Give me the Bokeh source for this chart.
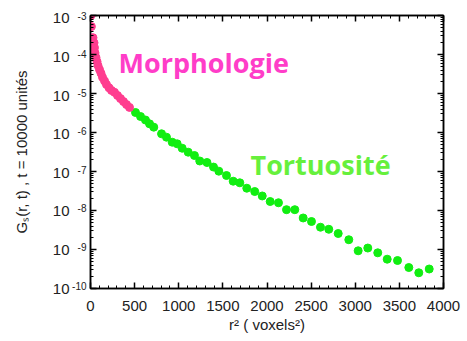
from bokeh.plotting import figure
from bokeh.models import LogAxis, LinearAxis, FixedTicker, Label, Range1d, LogScale
from bokeh.embed import file_html
from bokeh.resources import INLINE

# --- data ---
morph_r2 = [5, 10, 28, 40, 45, 51, 62, 74, 85, 102, 119, 136, 159, 181, 210, 238,
            272, 306, 340, 374, 408, 442]
morph_g = [1.0e-3, 5.2e-4, 2.7e-4, 2.0e-4, 1.5e-4, 1.1e-4, 8.4e-5, 6.6e-5, 5.2e-5,
           4.1e-5, 3.3e-5, 2.6e-5, 2.1e-5, 1.7e-5, 1.4e-5, 1.2e-5, 1.07e-5, 8.9e-6,
           7.4e-6, 6.2e-6, 5.2e-6, 4.4e-6]

tort_r2 = [510, 567, 623, 669, 717, 805, 861, 926, 982, 1039, 1107, 1178, 1238, 1320,
           1394, 1454, 1541, 1617, 1692, 1771, 1861, 1946, 2036, 2130, 2221, 2315,
           2410, 2504, 2606, 2700, 2807, 2927, 3033, 3142, 3255, 3362, 3479, 3607,
           3720, 3838]
tort_g = [3.26e-6, 2.57e-6, 2.09e-6, 1.67e-6, 1.37e-6, 9.27e-7, 7.57e-7, 5.64e-7,
          5.13e-7, 3.95e-7, 3.13e-7, 2.57e-7, 1.86e-7, 1.70e-7, 1.30e-7, 1.02e-7,
          7.89e-8, 5.64e-8, 5.13e-8, 3.73e-8, 3.07e-8, 2.36e-8, 1.70e-8, 1.58e-8,
          1.05e-8, 1.05e-8, 6.43e-9, 5.22e-9, 3.73e-9, 3.30e-9, 2.57e-9, 1.78e-9,
          9.27e-10, 1.09e-9, 8.22e-10, 5.64e-10, 5.22e-10, 3.45e-10, 2.53e-10, 3.16e-10]

x_ticks = [0, 500, 1000, 1500, 2000, 2500, 3000, 3500, 4000]
y_exponents = [-10, -9, -8, -7, -6, -5, -4, -3]
y_tick_base = "10"
y_tick_exps = [str(e) for e in y_exponents]

PINK = "#ff3d8f"
PINK_TXT = "#ff3dc8"
GREEN = "#11ee11"
GREEN_TXT = "#66f03c"
FONT = "Liberation Sans"
TXT = "#222222"

Y0, Y1 = 1e-10, 1e-3
p = figure(width=467, height=341, output_backend="svg", toolbar_location=None,
           x_range=(0, 4000), y_range=(Y0, Y1), y_axis_type="log",
           min_border_left=90, min_border_right=24, min_border_top=15,
           min_border_bottom=53)
p.background_fill_color = "white"
p.border_fill_color = "white"
p.grid.visible = False
p.outline_line_color = "black"
p.outline_line_width = 1.5

y_major = [10.0 ** e for e in y_exponents]
y_minor = [k * 10.0 ** e for e in y_exponents[:-1] for k in range(2, 10)]
x_minor = list(range(0, 4001, 100))

yt = FixedTicker(ticks=y_major, minor_ticks=y_minor)
xt = FixedTicker(ticks=x_ticks, minor_ticks=x_minor)


def style(ax, labels=True):
    ax.axis_line_color = "black"
    ax.axis_line_width = 1.5
    ax.major_tick_in = 6
    ax.major_tick_out = 0
    ax.minor_tick_in = 3
    ax.minor_tick_out = 0
    ax.major_tick_line_color = "black"
    ax.major_tick_line_width = 1.5
    ax.minor_tick_line_color = "black"
    ax.minor_tick_line_width = 1
    ax.major_label_text_font = FONT
    ax.major_label_text_font_size = "15px"
    ax.major_label_text_color = TXT
    ax.axis_label_text_font = FONT
    ax.axis_label_text_font_size = "15px"
    ax.axis_label_text_font_style = "normal"
    ax.axis_label_text_color = TXT
    if not labels:
        ax.major_label_text_font_size = "0px"
        ax.major_label_text_alpha = 0
        ax.major_label_standoff = 0


def label_only(ax):
    ax.axis_line_color = None
    ax.major_tick_line_color = None
    ax.minor_tick_line_color = None
    ax.major_tick_in = 0
    ax.major_tick_out = 0
    ax.minor_tick_in = 0
    ax.minor_tick_out = 0
    ax.major_label_text_font = FONT
    ax.major_label_text_color = TXT
    ax.axis_label_text_font = FONT
    ax.axis_label_text_font_size = "15px"
    ax.axis_label_text_font_style = "normal"
    ax.axis_label_text_color = TXT


p.xaxis.ticker = xt
p.yaxis.ticker = yt
style(p.xaxis[0])
style(p.yaxis[0], labels=False)
p.xaxis.major_label_standoff = 12
p.xaxis.axis_label = "r\u00b2 ( voxels\u00b2)"
p.xaxis.axis_label_standoff = 2

top = LinearAxis(ticker=xt)
style(top, labels=False)
p.add_layout(top, "above")
right = LogAxis(ticker=yt)
style(right, labels=False)
p.add_layout(right, "right")

# y tick labels: small raised exponent next to base "10", drawn by two label-only
# axes whose ranges are widened by ~3 px (exponents up, bases down) so every
# tick stays inside its range.
px_per_decade = 273 / 7
pad = 10 ** (3.0 / px_per_decade)
p.extra_y_ranges = {"exp": Range1d(Y0 / pad, Y1), "base": Range1d(Y0, Y1 * pad)}
p.extra_y_scales = {"exp": LogScale(), "base": LogScale()}

exp_axis = LogAxis(y_range_name="exp", ticker=FixedTicker(ticks=y_major, minor_ticks=[]))
label_only(exp_axis)
exp_axis.major_label_text_font_size = "10px"
exp_axis.major_label_standoff = 4
exp_axis.major_label_overrides = {v: s for v, s in zip(y_major, y_tick_exps)}
p.add_layout(exp_axis, "left")

base_axis = LogAxis(y_range_name="base", ticker=FixedTicker(ticks=y_major, minor_ticks=[]))
label_only(base_axis)
base_axis.major_label_text_font_size = "15px"
base_axis.major_label_standoff = 0
base_axis.major_label_overrides = {v: y_tick_base for v in y_major}
base_axis.axis_label = "G\u209b(r, t) , t = 10000 unit\u00e9s"
base_axis.axis_label_standoff = 20
p.add_layout(base_axis, "left")

p.scatter(tort_r2, tort_g, size=8, fill_color=GREEN, line_color=GREEN)
p.scatter(morph_r2, morph_g, size=8, fill_color=PINK, line_color=PINK)

p.add_layout(Label(x=317, y=3.9e-5, y_offset=8, text="Morphologie",
                   text_font="Open Sans", text_font_style="bold",
                   text_font_size="27px", text_color=PINK_TXT,
                   text_baseline="alphabetic"))
p.add_layout(Label(x=1813, y=9.3e-8, y_offset=8, text="Tortuosit\u00e9",
                   text_font="Open Sans", text_font_style="bold",
                   text_font_size="27px", text_color=GREEN_TXT,
                   text_baseline="alphabetic"))

open("out.html", "w").write(file_html(p, INLINE))
